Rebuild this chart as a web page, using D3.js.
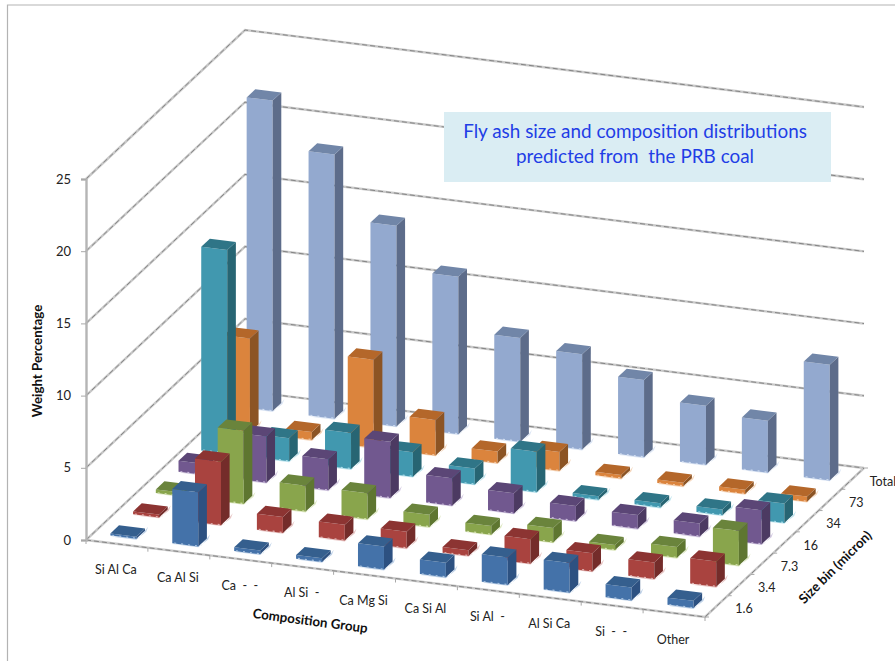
<!DOCTYPE html>
<html><head><meta charset="utf-8">
<script src="https://cdn.jsdelivr.net/npm/d3@7"></script>
<style>html,body{margin:0;padding:0;background:#fff;overflow:hidden}svg{display:block}text{font-family:Lato,"Open Sans",sans-serif}</style>
</head><body><div id="chart"></div>
<script>
const categories=["Si Al Ca","Ca Al Si","Ca  -  -","Al Si  -","Ca Mg Si","Ca Si Al","Si Al  -","Al Si Ca","Si  -  -","Other"];
const sizeBins=["1.6","3.4","7.3","16","34","73","Total"];
const valueTicks=[0,5,10,15,20,25];
const bin1_6=[0.15,3.75,0.25,0.25,1.6,1.0,1.9,2.05,0.9,0.5];
const bin3_4=[0.2,4.4,1.1,1.1,1.15,0.4,1.7,1.25,1.15,1.75];
const bin7_3=[0.25,5.07,1.8,1.8,0.85,0.6,1.0,0.35,0.75,2.4];
const bin16=[0.75,3.2,2.15,3.9,1.9,1.4,1.05,0.95,0.9,2.35];
const bin34=[14.1,1.6,2.5,1.7,1.1,2.8,0.25,0.3,0.4,1.35];
const bin73=[6.5,0.55,6.1,2.45,0.8,1.3,0.25,0.25,0.3,0.35];
const binTotal=[21.5,18.3,13.9,10.9,7.2,6.6,5.35,4.1,3.6,8.0];
const seriesValues=[bin1_6,bin3_4,bin7_3,bin16,bin34,bin73,binTotal];
const faceColors=[
 {front:"#4472a9",top:"#355f8e",side:"#2d5181",pale:"#a9c3e0"},
 {front:"#a9433f",top:"#8c3432",side:"#742c2a",pale:"#e0b3b1"},
 {front:"#89a54c",top:"#6a843c",side:"#5e7630",pale:"#d3e0ae"},
 {front:"#71588f",top:"#5b4676",side:"#4c3a62",pale:"#c6b8d8"},
 {front:"#4198af",top:"#2f7587",side:"#276573",pale:"#a8dbe8"},
 {front:"#db843d",top:"#b4672a",side:"#8c5424",pale:"#f2c8a4"},
 {front:"#93a9cf",top:"#7186a8",side:"#5d6c8a",pale:"#cfdcf0"}];

const W=895,H=661;
const svg=d3.select("#chart").append("svg").attr("width",W).attr("height",H);

// oblique projection: three linear scales, one per data axis
const catX=d3.scaleLinear().domain([0,10]).range([0,619]);
const catY=d3.scaleLinear().domain([0,10]).range([0,77]);
const depX=d3.scaleLinear().domain([0,7]).range([0,159]);
const depY=d3.scaleLinear().domain([0,7]).range([0,-149]);
const valY=d3.scaleLinear().domain([0,25]).range([540,179]);
const X0=86;
const P=(c,d,v)=>[X0+catX(c)+depX(d),valY(v)+catY(c)+depY(d)];
const poly=d3.line().curve(d3.curveLinearClosed);
const seg=d3.line();

// frame
svg.append("path").attr("d",seg([[7.5,H],[7.5,5],[W,5]])).attr("fill","none").attr("stroke","#b3b3b3").attr("stroke-width",1.2);

// grid
const grid=svg.append("g").attr("fill","none");
function gridLine(pts){
  grid.append("path").attr("d",seg(pts)).attr("stroke","#c9c9c9").attr("stroke-width",2.4);
  grid.append("path").attr("d",seg(pts)).attr("stroke","#858585").attr("stroke-width",1).attr("stroke-dasharray","5 3");
}
valueTicks.forEach(v=>{
  gridLine([P(0,0,v),P(0,7,v),P(10,7,v)]);
});
gridLine([P(0,0,0),P(10,0,0),P(10,7,0)]);
// floor ticks
d3.range(0,11).forEach(c=>{const a=P(c,0,0);grid.append("path").attr("d",seg([a,[a[0],a[1]+4]])).attr("stroke","#a8a8a8").attr("stroke-width",1);});
d3.range(0,8).forEach(d=>{const a=P(10,d,0);grid.append("path").attr("d",seg([a,[a[0]+4,a[1]]])).attr("stroke","#a8a8a8").attr("stroke-width",1);});

// value axis
const axis=d3.axisLeft(valY).tickValues(valueTicks).tickSize(5).tickPadding(10);
const ag=svg.append("g").attr("transform",`translate(${X0},0)`).call(axis);
ag.select(".domain").attr("stroke","#b5b5b5").attr("stroke-width",2.4);
ag.selectAll(".tick line").attr("stroke","#a8a8a8").attr("stroke-width",1);
ag.selectAll("text").attr("font-size",13).attr("fill","#222").style("font-family","Lato,sans-serif");

// note box
const note=svg.append("g");
note.append("rect").attr("x",444).attr("y",112).attr("width",387).attr("height",70).attr("fill","#daedf3");
note.append("text").attr("x",635).attr("y",138).attr("text-anchor","middle").attr("font-size",18.9).attr("fill","#1f3ee6").text("Fly ash size and composition distributions");
note.append("text").attr("x",635).attr("y",163).attr("text-anchor","middle").attr("font-size",18.9).attr("fill","#1f3ee6").style("white-space","pre").text("predicted from  the PRB coal");

// bars, painted from back to front
const bw=0.42,bd=0.38;
const bars=svg.append("g");
for(let d=sizeBins.length-1;d>=0;d--){
  const col=faceColors[d];
  seriesValues[d].forEach((val,c)=>{
    const c0=c+.49-bw/2,c1=c+.49+bw/2,d0=d+.31,d1=d0+bd;
    const g=bars.append("g");
    g.append("path").attr("d",poly([P(c0,d0,-0.06),P(c1,d0,-0.06),P(c1+.02,d1,-0.06),P(c1+.05,d1,0.3),P(c1+.05,d0,0.1)])).attr("fill",col.pale).attr("opacity",.75);
    g.append("path").attr("d",poly([P(c0,d0,0),P(c1,d0,0),P(c1,d0,val),P(c0,d0,val)])).attr("fill",col.front);
    g.append("path").attr("d",poly([P(c1,d0,0),P(c1,d1,0),P(c1,d1,val),P(c1,d0,val)])).attr("fill",col.side);
    g.append("path").attr("d",poly([P(c0,d0,val),P(c1,d0,val),P(c1,d1,val),P(c0,d1,val)])).attr("fill",col.top);
    g.append("path").attr("d",seg([P(c0+.03,d0,0.03),P(c1,d0,0.03)])).attr("fill","none").attr("stroke",col.pale).attr("stroke-width",1.2).attr("stroke-dasharray","2 5");
  });
}

// category labels
const labels=svg.append("g").attr("font-size",12.5).attr("fill","#222");
categories.forEach((t,c)=>{const p=P(c+.5,0,0);
  labels.append("text").attr("x",p[0]-1).attr("y",p[1]+30.5).attr("text-anchor","middle").style("white-space","pre").text(t);});
sizeBins.forEach((t,d)=>{const p=P(10,d+.5,0);
  labels.append("text").attr("x",p[0]+(t==="Total"?17:19)).attr("y",p[1]+7).style("white-space","pre").text(t);});

// axis titles
const title=(t,x,y,r)=>svg.append("text").attr("transform",`translate(${x},${y}) rotate(${r})`).attr("text-anchor","middle").attr("dominant-baseline","middle").attr("font-size",13.3).attr("font-weight",700).attr("fill","#111").text(t);
title("Weight Percentage",39,361,-90);
title("Composition Group",310,622,7.5);
title("Size bin (micron)",836,568,-45);
</script></body></html>
